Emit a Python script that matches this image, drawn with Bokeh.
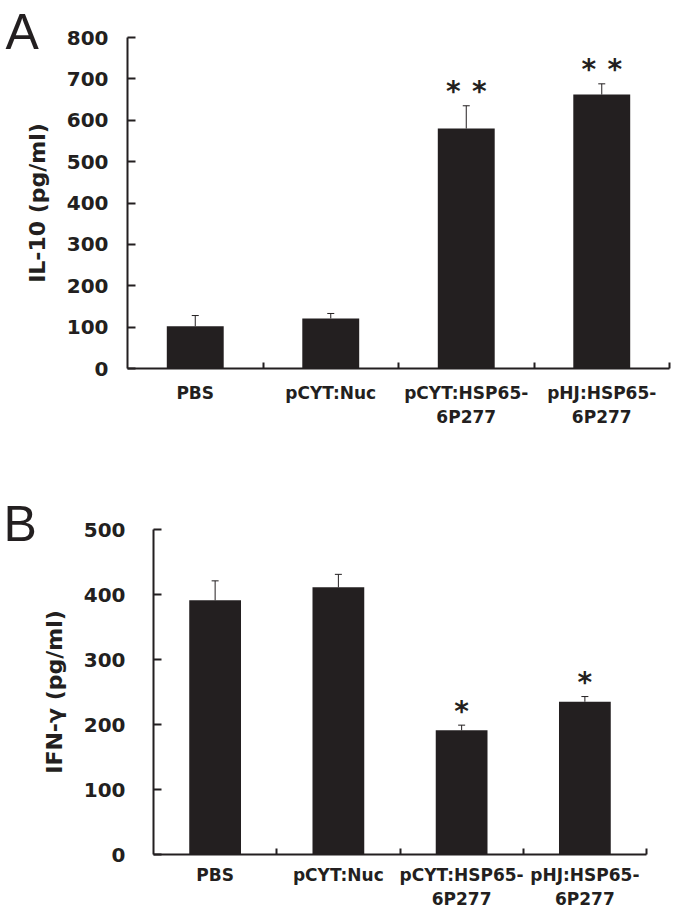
from bokeh.plotting import figure
from bokeh.models import ColumnDataSource, Whisker, TeeHead, FixedTicker
from bokeh.layouts import column, row
from bokeh.embed import file_html
from bokeh.resources import INLINE
from bokeh.core.properties import value

# ---- data ----
categories = ["PBS", "pCYT:Nuc", "pCYT:HSP65-\n6P277", "pHJ:HSP65-\n6P277"]
il10_mean = [102, 121, 580, 662]
il10_err = [26, 12, 55, 26]
il10_sig = ["", "", "**", "**"]
ifng_mean = [391, 411, 191, 235]
ifng_err = [30, 20, 8, 8]
ifng_sig = ["", "", "*", "*"]
il10_ticks = [0, 100, 200, 300, 400, 500, 600, 700, 800]
ifng_ticks = [0, 100, 200, 300, 400, 500]

INK = "#231f20"
FONT = "DejaVu Sans"


def make_panel(letter, ylabel, means, errs, sigs, yticks, width, height,
               bl, br, bt, bb, tick_standoff, x_standoff, letter_offset):
    xs = list(range(1, len(categories) + 1))
    upper = [m + e for m, e in zip(means, errs)]
    src = ColumnDataSource(dict(x=xs, top=means, upper=upper))

    p = figure(width=width, height=height, output_backend="svg", toolbar_location=None,
               x_range=(0.5, len(categories) + 0.5), y_range=(yticks[0], yticks[-1]),
               min_border_left=bl, min_border_right=br, min_border_top=bt, min_border_bottom=bb)
    p.outline_line_color = None
    p.xgrid.visible = False
    p.ygrid.visible = False
    p.background_fill_color = "white"

    # panel letter as the plot title
    p.title.text = letter
    p.title.align = "left"
    p.title.offset = letter_offset
    p.title.vertical_align = "top"
    p.title.standoff = -49
    p.title.text_font = "Liberation Sans"
    p.title.text_font_style = "normal"
    p.title.text_font_size = "50px"
    p.title.text_color = INK

    p.vbar(x="x", top="top", width=0.42, source=src, fill_color=INK, line_color=None)
    w = Whisker(base="x", upper="upper", lower="top", source=src,
                upper_head=TeeHead(size=7, line_width=1, line_color=INK),
                lower_head=None, line_width=1, line_color=INK)
    p.add_layout(w)

    # significance stars
    for i, s in enumerate(sigs):
        n = len(s)
        if n == 0:
            continue
        offs = [0] if n == 1 else [-13, 13]
        for o in offs:
            p.text(x=[xs[i]], y=[upper[i]], text=["*"], x_offset=o, y_offset=-14,
                   text_font=value(FONT), text_font_style="bold", text_font_size="28px",
                   text_align="center", text_baseline="alphabetic", text_color=INK)

    # y axis
    ya = p.yaxis[0]
    ya.ticker = FixedTicker(ticks=yticks)
    ya.axis_line_color = INK
    ya.axis_line_width = 2
    ya.major_tick_line_color = INK
    ya.major_tick_line_width = 2
    ya.major_tick_in = 8
    ya.major_tick_out = 0
    ya.minor_tick_line_color = None
    ya.major_label_text_font = FONT
    ya.major_label_text_font_style = "bold"
    ya.major_label_text_font_size = "20px"
    ya.major_label_text_color = INK
    ya.major_label_standoff = tick_standoff
    ya.axis_label = ylabel
    ya.axis_label_text_font = FONT
    ya.axis_label_text_font_style = "bold"
    ya.axis_label_text_font_size = "22px"
    ya.axis_label_text_color = INK
    ya.axis_label_standoff = 14

    # x axis
    xa = p.xaxis[0]
    xa.ticker = FixedTicker(ticks=xs, minor_ticks=[x + 0.5 for x in xs])
    xa.major_label_overrides = {x: c for x, c in zip(xs, categories)}
    xa.axis_line_color = INK
    xa.axis_line_width = 2
    xa.major_tick_line_color = None
    xa.major_tick_in = 0
    xa.major_tick_out = 0
    xa.minor_tick_line_color = INK
    xa.minor_tick_line_width = 2
    xa.minor_tick_in = 6
    xa.minor_tick_out = 0
    xa.major_label_text_font = FONT
    xa.major_label_text_font_style = "bold"
    xa.major_label_text_font_size = "17px"
    xa.major_label_text_color = INK
    xa.major_label_standoff = x_standoff
    return p


pA = make_panel("A", "IL-10 (pg/ml)", il10_mean, il10_err, il10_sig, il10_ticks,
                672, 475, 127, 3, 37, 107, 19, 14, -122)
pB = make_panel("B", "IFN-γ (pg/ml)", ifng_mean, ifng_err, ifng_sig, ifng_ticks,
                672, 436, 153, 26, 54, 55, 28, 10, -150)

layout = column(row(pA), row(pB), spacing=0)
open("out.html", "w").write(file_html(layout, INLINE))
